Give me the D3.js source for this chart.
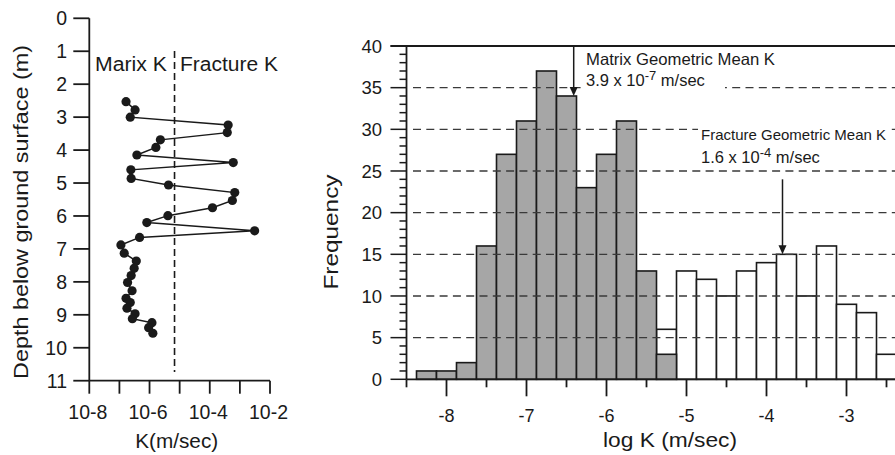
<!DOCTYPE html>
<html>
<head>
<meta charset="utf-8">
<script src="https://cdn.jsdelivr.net/npm/d3@7/dist/d3.min.js"></script>
<style>
  html, body { margin: 0; padding: 0; background: #fff; }
  svg { display: block; font-family: Arial, "Liberation Sans", Helvetica, sans-serif; }
</style>
</head>
<body>
<svg id="chart" width="895" height="455"></svg>
<script>
// ---------- Data ----------
// Left panel: K profile with depth
const profileDepth = [2.53,2.78,3.00,3.24,3.47,3.69,3.92,4.15,4.38,4.60,4.86,5.06,5.29,5.53,5.75,5.99,6.20,6.45,6.65,6.88,7.13,7.37,7.59,7.81,8.02,8.27,8.50,8.63,8.80,8.97,9.12,9.24,9.39,9.56];
const profileLogK  = [-6.78,-6.48,-6.64,-3.39,-3.42,-5.64,-5.79,-6.42,-3.22,-6.62,-6.61,-5.37,-3.17,-3.25,-3.91,-5.39,-6.09,-2.51,-6.33,-6.95,-6.84,-6.44,-6.51,-6.61,-6.73,-6.58,-6.78,-6.64,-6.75,-6.48,-6.57,-5.92,-6.03,-5.89];
const cutoffLogK = -5.17;
const depthTicks = [0,1,2,3,4,5,6,7,8,9,10,11];
const kTicks = [-8,-7,-6,-5,-4,-3,-2];
const kTickLabels = {"-8":"10-8","-6":"10-6","-4":"10-4","-2":"10-2"};

// Right panel: histogram of log K
const binCenters     = [-8.25,-8.0,-7.75,-7.5,-7.25,-7.0,-6.75,-6.5,-6.25,-6.0,-5.75,-5.5,-5.25,-5.0,-4.75,-4.5,-4.25,-4.0,-3.75,-3.5,-3.25,-3.0,-2.75,-2.5];
const matrixCounts   = [1,1,2,16,27,31,37,34,23,27,31,13,3,0,0,0,0,0,0,0,0,0,0,0];
const fractureCounts = [0,0,0,0,0,0,0,0,0,0,0,0,6,13,12,10,13,14,15,10,16,9,8,3];
const binWidth = 0.25;
const freqMajorTicks = [0,5,10,15,20,25,30,35,40];
const gridValues = [5,10,15,20,25,30,35];
const logMajorTicks = [-8,-7,-6,-5,-4,-3];
const logMinorTicks = [-8.5,-7.5,-6.5,-5.5,-4.5,-3.5,-2.5];
const matrixMean = {logK: -6.41, from: 40, to: 34};
const fractureMean = {logK: -3.80, from: 24, to: 15};

// ---------- Drawing ----------
const svg = d3.select("#chart");
const black = "#1a1a1a";

// ===== Left panel =====
const lx = d3.scaleLinear().domain([-8, -2]).range([89.3, 270]);
const ly = d3.scaleLinear().domain([0, 11]).range([18.3, 380.7]);
const L = svg.append("g");

// y axis
L.append("line").attr("x1", lx(-8)).attr("x2", lx(-8)).attr("y1", ly(0)).attr("y2", ly(11))
  .attr("stroke", black).attr("stroke-width", 1.8);
L.selectAll(".dtick").data(depthTicks).enter().append("line")
  .attr("x1", lx(-8) - 16).attr("x2", lx(-8)).attr("y1", d => ly(d)).attr("y2", d => ly(d))
  .attr("stroke", black).attr("stroke-width", 1.8);
L.selectAll(".dlab").data(depthTicks).enter().append("text")
  .attr("x", 67).attr("y", d => ly(d)).attr("dy", "0.36em")
  .attr("text-anchor", "end").attr("font-size", 19.5).attr("fill", black)
  .text(d => d);

// x axis
L.append("line").attr("x1", lx(-8)).attr("x2", lx(-2)).attr("y1", ly(11)).attr("y2", ly(11))
  .attr("stroke", black).attr("stroke-width", 1.8);
L.selectAll(".ktick").data(kTicks).enter().append("line")
  .attr("x1", d => lx(d)).attr("x2", d => lx(d)).attr("y1", ly(11)).attr("y2", ly(11) + 13)
  .attr("stroke", black).attr("stroke-width", 1.8);
L.selectAll(".klab").data(kTicks.filter(d => kTickLabels[d])).enter().append("text")
  .attr("x", d => lx(d) - 1.5).attr("y", 419)
  .attr("text-anchor", "middle").attr("font-size", 19.5).attr("fill", black)
  .text(d => kTickLabels[d]);

// titles
L.append("text").attr("x", 176.7).attr("y", 448).attr("text-anchor", "middle")
  .attr("font-size", 20).attr("fill", black)
  .attr("textLength", 83).attr("lengthAdjust", "spacingAndGlyphs").text("K(m/sec)");
L.append("text").attr("transform", "translate(28,212) rotate(-90)")
  .attr("text-anchor", "middle").attr("font-size", 21).attr("fill", black)
  .attr("textLength", 334).attr("lengthAdjust", "spacingAndGlyphs")
  .text("Depth below ground surface (m)");

// cutoff dashed line
L.append("line").attr("x1", lx(cutoffLogK)).attr("x2", lx(cutoffLogK))
  .attr("y1", 51).attr("y2", 372)
  .attr("stroke", black).attr("stroke-width", 1.6).attr("stroke-dasharray", "7,4");
L.append("text").attr("x", 95).attr("y", 70.7).attr("font-size", 20).attr("fill", black)
  .attr("textLength", 72).attr("lengthAdjust", "spacingAndGlyphs").text("Marix K");
L.append("text").attr("x", 180).attr("y", 70.7).attr("font-size", 20).attr("fill", black)
  .attr("textLength", 98).attr("lengthAdjust", "spacingAndGlyphs").text("Fracture K");

// profile
const profile = profileDepth.map((d, i) => ({depth: d, logK: profileLogK[i]}));
L.append("path").datum(profile)
  .attr("d", d3.line().x(d => lx(d.logK)).y(d => ly(d.depth)))
  .attr("fill", "none").attr("stroke", black).attr("stroke-width", 1.5);
L.selectAll(".pt").data(profile).enter().append("circle")
  .attr("cx", d => lx(d.logK)).attr("cy", d => ly(d.depth)).attr("r", 4.6)
  .attr("fill", black);

// ===== Right panel =====
const rx = d3.scaleLinear().domain([-8.5, -2.4]).range([406.5, 894.5]);
const ry = d3.scaleLinear().domain([0, 40]).range([379.3, 46]);
const R = svg.append("g");

const bins = binCenters.map((c, i) => ({c, m: matrixCounts[i], f: fractureCounts[i]}));
// fracture (white) bars
R.selectAll(".fbar").data(bins.filter(d => d.f > 0)).enter().append("rect")
  .attr("x", d => rx(d.c - binWidth / 2)).attr("width", rx(binWidth) - rx(0))
  .attr("y", d => ry(d.f)).attr("height", d => ry(0) - ry(d.f))
  .attr("fill", "#ffffff").attr("stroke", black).attr("stroke-width", 1.6);
// matrix (gray) bars
R.selectAll(".mbar").data(bins.filter(d => d.m > 0)).enter().append("rect")
  .attr("x", d => rx(d.c - binWidth / 2)).attr("width", rx(binWidth) - rx(0))
  .attr("y", d => ry(d.m)).attr("height", d => ry(0) - ry(d.m))
  .attr("fill", "#a6a6a6").attr("stroke", black).attr("stroke-width", 1.6);

// grid lines (on top of bars)
R.selectAll(".grid").data(gridValues).enter().append("line")
  .attr("x1", 413).attr("x2", 895).attr("y1", d => ry(d)).attr("y2", d => ry(d))
  .attr("stroke", "#3a3a3a").attr("stroke-width", 1.3).attr("stroke-dasharray", "8,5.3");

// y axis
R.append("line").attr("x1", rx(-8.5)).attr("x2", rx(-8.5)).attr("y1", ry(0)).attr("y2", ry(40))
  .attr("stroke", black).attr("stroke-width", 1.8);
R.selectAll(".ymin").data(d3.range(0, 41)).enter().append("line")
  .attr("x1", d => rx(-8.5) - (d % 5 === 0 ? 16 : 7)).attr("x2", rx(-8.5))
  .attr("y1", d => ry(d)).attr("y2", d => ry(d))
  .attr("stroke", black).attr("stroke-width", 1.5);
R.selectAll(".ylab").data(freqMajorTicks).enter().append("text")
  .attr("x", 382).attr("y", d => ry(d)).attr("dy", "0.36em")
  .attr("text-anchor", "end").attr("font-size", 18.5).attr("fill", black).text(d => d);

// top frame
R.append("line").attr("x1", rx(-8.5) - 16).attr("x2", 895).attr("y1", ry(40)).attr("y2", ry(40))
  .attr("stroke", black).attr("stroke-width", 1.8);

// x axis
R.append("line").attr("x1", rx(-8.5)).attr("x2", 895).attr("y1", ry(0)).attr("y2", ry(0))
  .attr("stroke", black).attr("stroke-width", 1.8);
R.selectAll(".xmaj").data(logMajorTicks).enter().append("line")
  .attr("x1", d => rx(d)).attr("x2", d => rx(d)).attr("y1", ry(0)).attr("y2", ry(0) + 17)
  .attr("stroke", black).attr("stroke-width", 1.8);
R.selectAll(".xmin").data(logMinorTicks).enter().append("line")
  .attr("x1", d => rx(d)).attr("x2", d => rx(d)).attr("y1", ry(0)).attr("y2", ry(0) + 8)
  .attr("stroke", black).attr("stroke-width", 1.8);
R.selectAll(".xlab").data(logMajorTicks).enter().append("text")
  .attr("x", d => rx(d)).attr("y", 422).attr("text-anchor", "middle")
  .attr("font-size", 18).attr("fill", black).text(d => "-" + Math.abs(d));

// axis titles
R.append("text").attr("x", 670).attr("y", 447).attr("text-anchor", "middle")
  .attr("font-size", 21).attr("fill", black)
  .attr("textLength", 134).attr("lengthAdjust", "spacingAndGlyphs").text("log K (m/sec)");
R.append("text").attr("transform", "translate(338,232) rotate(-90)")
  .attr("text-anchor", "middle").attr("font-size", 20).attr("fill", black)
  .attr("textLength", 115).attr("lengthAdjust", "spacingAndGlyphs").text("Frequency");

// annotations
function arrow(g, m) {
  const x = rx(m.logK), y1 = ry(m.from), y2 = ry(m.to);
  g.append("line").attr("x1", x).attr("x2", x).attr("y1", y1).attr("y2", y2 - 8)
    .attr("stroke", black).attr("stroke-width", 1.5);
  g.append("path").attr("d", `M${x - 4},${y2 - 9}L${x + 4},${y2 - 9}L${x},${y2}Z`).attr("fill", black);
}
function label(g, x, y1, y2, line1, line1Len, fs1, base, sup, tail, bg2W) {
  // white backgrounds so grid lines do not cross the text
  g.append("rect").attr("x", x - 3).attr("y", y1 - 14).attr("width", line1Len + 4).attr("height", 19)
    .attr("fill", "#fff");
  g.append("rect").attr("x", x - 3).attr("y", y2 - 19).attr("width", bg2W).attr("height", 24)
    .attr("fill", "#fff");
  g.append("text").attr("x", x).attr("y", y1).attr("font-size", fs1).attr("fill", black)
    .attr("textLength", line1Len).attr("lengthAdjust", "spacingAndGlyphs").text(line1);
  const t = g.append("text").attr("x", x).attr("y", y2).attr("font-size", 16.5).attr("fill", black);
  t.append("tspan").text(base);
  t.append("tspan").attr("dy", -6).attr("font-size", 13).text(sup);
  t.append("tspan").attr("dy", 6).text(tail);
}
label(R, 586, 65, 86, "Matrix Geometric Mean K", 189, 16.5, "3.9 x 10", "-7", " m/sec", 142);
arrow(R, matrixMean);
label(R, 701, 140, 163, "Fracture Geometric Mean K", 185, 15, "1.6 x 10", "-4", " m/sec", 145);
arrow(R, fractureMean);
</script>
</body>
</html>
